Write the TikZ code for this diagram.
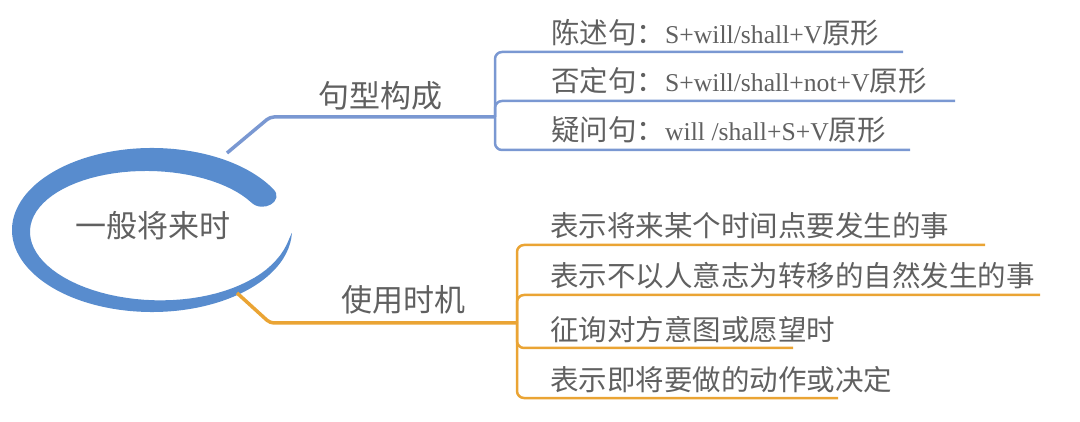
\documentclass[tikz,border=0pt]{standalone}
\usepackage{fontspec}
\setmainfont{Liberation Serif}[Scale=0.9]
\newfontfamily\cjk{Noto Sans CJK SC}
\usetikzlibrary{positioning}

\definecolor{ringblue}{RGB}{88,140,206}
\definecolor{topline}{RGB}{122,152,210}
\definecolor{botline}{RGB}{234,164,52}
\definecolor{txtgray}{RGB}{96,96,96}

\begin{document}
\begin{tikzpicture}[x=1pt, y=-1pt,
    lbl/.style={text=txtgray, inner sep=0pt, font=\cjk\fontsize{31}{36}\selectfont},
    leaf/.style={text=txtgray, inner sep=0pt, anchor=west, font=\fontsize{28.5}{32}\selectfont},
    cjkleaf/.style={leaf, font=\cjk\fontsize{28.5}{32}\selectfont},
    stem/.style={line width=3.5pt, rounded corners=4pt},
    twig/.style={line width=2.5pt, rounded corners=7pt}
]
\useasboundingbox (0,0) rectangle (1080,422);

% Central ring (thick head, thin tail)
\fill[ringblue] (152,230) ++(-30:140 and 82)
    arc[start angle=-30, end angle=-358, x radius=140, y radius=82]
    -- plot[domain=-358:-30, samples=80, variable=\t]
       ({152+(140-26*((\t+358.01)/328)^0.6)*cos(\t)},
        {230+(82-26*((\t+358.01)/328)^0.6)*sin(\t)})
    .. controls (262.6,214) and (285,201) .. cycle;
\node[lbl] (root) at (153,226) {一般将来时};

% Sentence patterns
\node[lbl] (form) at (380,96) {句型构成};
\coordinate (formin)   at (227,153);
\coordinate (formfork) at (495,117);
\draw[stem, topline] (formin) -- (270,117) -- (formfork);

\node[leaf] (form1) at (551,33)  {{\cjk 陈述句：}S+will/shall+V{\cjk 原形}};
\node[leaf] (form2) at (551,81)  {{\cjk 否定句：}S+will/shall+not+V{\cjk 原形}};
\node[leaf] (form3) at (551,130) {{\cjk 疑问句：}will /shall+S+V{\cjk 原形}};
\coordinate (form1end) at (903,52);
\coordinate (form2end) at (955,101);
\coordinate (form3end) at (910,150);
\draw[twig, topline] (formfork) |- (form1end);
\draw[twig, topline] (formfork) |- (form2end);
\draw[twig, topline] (formfork) |- (form3end);

% Usage
\node[lbl] (use) at (403,300) {使用时机};
\coordinate (usein)   at (237,293);
\coordinate (usefork) at (517,323);
\draw[stem, botline] (usein) -- (270,323) -- (usefork);

\node[cjkleaf] (use1) at (550,226) {表示将来某个时间点要发生的事};
\node[cjkleaf] (use2) at (550,276) {表示不以人意志为转移的自然发生的事};
\node[cjkleaf] (use3) at (550,330) {征询对方意图或愿望时};
\node[cjkleaf] (use4) at (550,380) {表示即将要做的动作或决定};
\coordinate (use1end) at (985,245);
\coordinate (use2end) at (1040,295);
\coordinate (use3end) at (793,348);
\coordinate (use4end) at (838,398);
\draw[twig, botline] (usefork) |- (use1end);
\draw[twig, botline] (usefork) |- (use2end);
\draw[twig, botline] (usefork) |- (use3end);
\draw[twig, botline] (usefork) |- (use4end);
\end{tikzpicture}
\end{document}
